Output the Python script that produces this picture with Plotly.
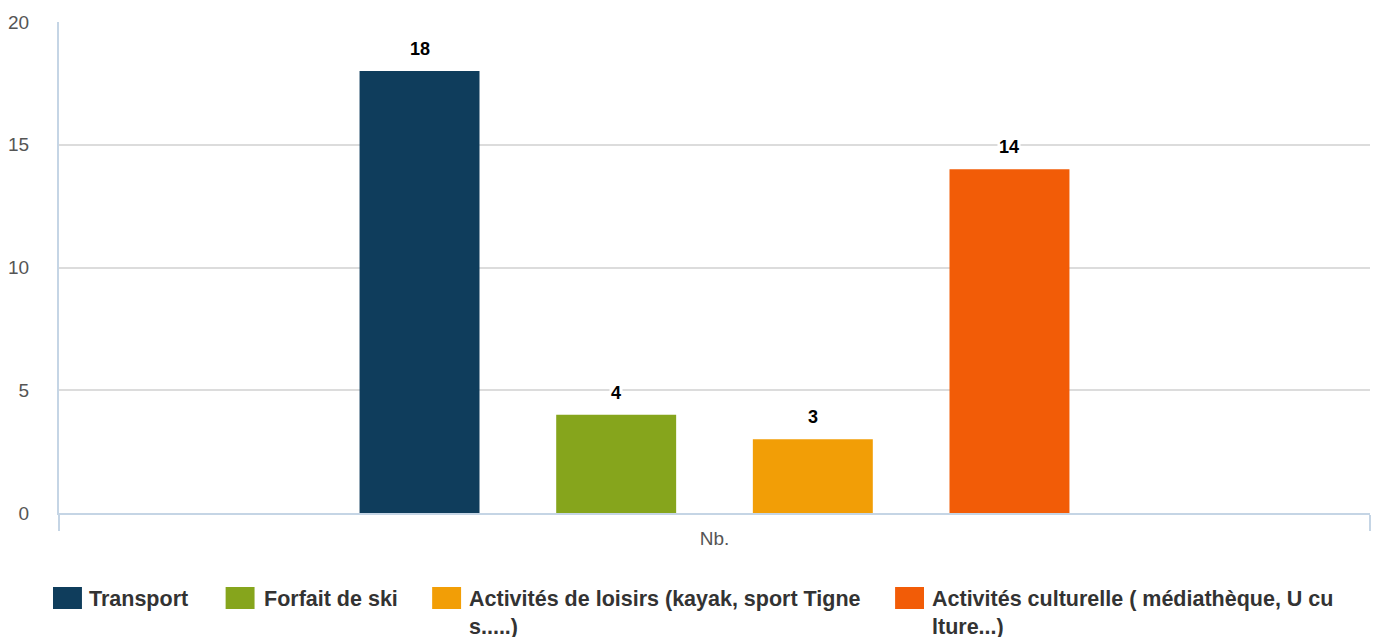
import plotly.graph_objects as go

# ---- data ----
categories = ["Nb."]
series_names = [
    "Transport",
    "Forfait de ski",
    "Activités de loisirs (kayak, sport Tigne<br>s.....)",
    "Activités culturelle ( médiathèque, U cu<br>lture...)",
]
series_values = [18, 4, 3, 14]
series_colors = ["#0f3d5c", "#86a51c", "#f29e06", "#f25c07"]
y_ticks = [0, 5, 10, 15, 20]

# ---- layout geometry (pixels) ----
W, H = 1378, 637
ML, MR, MT, MB = 56, 8, 22, 124
PW, PH = W - ML - MR, H - MT - MB
BARGAP = 0.4
BARGROUPGAP = 0.39


def px_x(px):
    return (px - ML) / PW


def px_y(py):
    return (H - MB - py) / PH


fig = go.Figure()
for name, val, col in zip(series_names, series_values, series_colors):
    fig.add_trace(go.Bar(
        x=categories, y=[val], name=name, marker_color=col,
        marker_line_width=0, showlegend=False, hoverinfo="skip",
    ))

# data labels
n = len(series_values)
slot = (1 - BARGAP) / n
for i, val in enumerate(series_values):
    xc = -0.5 + BARGAP / 2 + slot * (i + 0.5)
    fig.add_annotation(
        x=xc, y=val, xref="x", yref="y", text=f"<b>{val}</b>",
        showarrow=False, yanchor="middle", yshift=22,
        font=dict(family="Liberation Sans, Arial", size=18, color="#000000"),
        bgcolor="#ffffff", borderpad=1,
    )

# custom legend
swatch_x = [50, 223, 430, 894]
text_x = [86, 261, 467, 931]
for name, col, sx, tx in zip(series_names, series_colors, swatch_x, text_x):
    fig.add_shape(
        type="rect", xref="paper", yref="paper",
        x0=px_x(sx), x1=px_x(sx + 29), y0=px_y(609), y1=px_y(587),
        fillcolor=col, line_width=0,
    )
    fig.add_annotation(
        x=px_x(tx), y=px_y(587), xref="paper", yref="paper",
        text=f"<b>{name}</b>", showarrow=False, xanchor="left", yanchor="top",
        align="left", borderpad=0, borderwidth=0,
        font=dict(family="Liberation Sans, Arial", size=21.5, color="#333333"),
    )

fig.update_layout(
    width=W, height=H,
    margin=dict(l=ML, r=MR, t=MT, b=MB, pad=0),
    paper_bgcolor="#ffffff", plot_bgcolor="#ffffff",
    barmode="group", bargap=BARGAP, bargroupgap=BARGROUPGAP,
    showlegend=False,
    font=dict(family="Liberation Sans, Arial", color="#555555"),
)
fig.update_xaxes(
    type="category", range=[-0.5, 0.5],
    showline=True, linecolor="#c5d5e5", linewidth=2,
    ticks="outside", tickson="boundaries", ticklen=16, tickcolor="#c5d5e5", tickwidth=2,
    ticklabelstandoff=7,
    tickfont=dict(size=19, color="#555555"),
    showgrid=False, zeroline=False,
)
fig.update_yaxes(
    range=[0, 20], tickvals=y_ticks,
    showline=True, linecolor="#c5d5e5", linewidth=2,
    showgrid=True, gridcolor="#dcdcdc", gridwidth=2,
    zeroline=False, ticks="", ticklabelstandoff=24,
    tickfont=dict(size=19, color="#555555"),
)

fig.write_html(
    "out.html",
    config={"displayModeBar": False},
    post_script="document.body.style.margin='0';document.body.style.padding='0';",
)
